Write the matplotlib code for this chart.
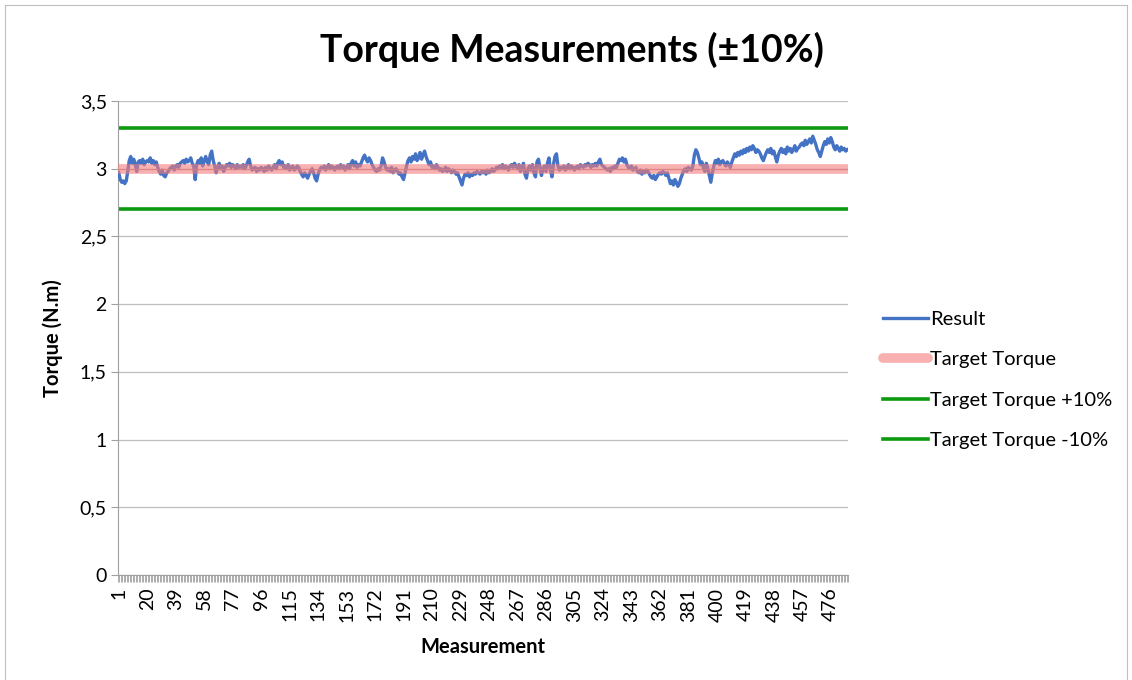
import numpy as np
import matplotlib
matplotlib.use("Agg")
import matplotlib.pyplot as plt
from matplotlib.ticker import MultipleLocator, FixedLocator, FuncFormatter

plt.rcParams['font.family'] = ['Lato', 'DejaVu Sans']

result = [
    2.97, 2.92, 2.90, 2.91, 2.89, 2.91, 2.98, 3.06, 3.09, 3.04, 3.07, 3.03, 2.98, 3.05, 3.06, 3.04, 3.07, 3.03, 3.05,
    3.06, 3.05, 3.08, 3.04, 3.06, 3.03, 3.05, 3.01, 2.98, 2.96, 2.99, 2.95, 2.94, 2.97, 2.98, 3.00, 3.01, 3.02, 2.99,
    3.02, 3.03, 3.01, 3.04, 3.05, 3.06, 3.04, 3.07, 3.05, 3.06, 3.08, 3.04, 3.02, 2.92, 3.03, 3.06, 3.04, 3.08, 3.02,
    3.06, 3.09, 3.05, 3.03, 3.10, 3.13, 3.06, 3.02, 2.97, 3.01, 3.04, 3.00, 3.02, 2.98, 3.01, 3.03, 3.02, 3.04, 3.01,
    3.03, 3.02, 3.00, 3.03, 3.01, 3.02, 3.01, 3.03, 3.00, 3.02, 3.05, 3.07, 3.02, 2.99, 3.00, 3.01, 2.98, 3.00, 2.99,
    3.01, 3.00, 2.98, 3.01, 2.99, 3.02, 3.00, 2.99, 3.01, 3.03, 3.00, 3.04, 3.06, 3.03, 3.05, 3.01, 3.02, 3.00, 3.03,
    2.99, 3.01, 3.02, 2.99, 3.00, 3.02, 3.01, 2.98, 2.96, 2.94, 2.97, 2.95, 2.93, 2.96, 2.98, 3.00, 2.97, 2.93, 2.91,
    2.96, 2.99, 3.01, 3.00, 3.02, 2.99, 3.01, 3.03, 3.00, 3.02, 3.01, 2.99, 3.01, 3.02, 3.00, 3.03, 3.01, 3.02, 2.99,
    3.01, 3.03, 3.00, 3.04, 3.06, 3.02, 3.05, 3.01, 3.03, 3.02, 3.05, 3.08, 3.10, 3.07, 3.05, 3.08, 3.06, 3.03, 3.01,
    2.99, 2.98, 3.00, 2.99, 3.02, 3.08, 3.05, 3.01, 2.99, 3.00, 2.98, 3.01, 2.97, 2.99, 3.00, 2.98, 2.96, 2.97, 2.94,
    2.92, 2.97, 3.02, 3.06, 3.08, 3.05, 3.09, 3.07, 3.11, 3.06, 3.08, 3.12, 3.07, 3.10, 3.13, 3.09, 3.06, 3.03, 3.05,
    3.01, 3.02, 3.00, 3.03, 3.01, 2.99, 3.00, 2.98, 2.99, 3.01, 2.98, 3.00, 2.99, 2.97, 2.99, 2.98, 2.96, 2.97, 2.94,
    2.91, 2.88, 2.93, 2.96, 2.95, 2.97, 2.94, 2.96, 2.95, 2.97, 2.96, 2.98, 2.97, 2.96, 2.98, 2.97, 2.98, 2.96, 2.99,
    2.97, 2.98, 3.00, 2.98, 2.99, 3.01, 3.00, 3.02, 3.01, 3.03, 3.00, 3.02, 3.01, 2.99, 3.02, 3.03, 3.01, 3.04, 3.02,
    3.00, 3.03, 2.98, 3.01, 3.04, 2.96, 2.93, 3.00, 3.02, 2.99, 3.03, 2.97, 2.94, 3.05, 3.07, 3.01, 2.95, 3.00, 3.02,
    2.98, 3.04, 3.08, 2.99, 2.94, 3.03, 3.09, 3.11, 3.02, 2.99, 3.01, 3.00, 3.02, 2.99, 3.01, 3.03, 3.00, 3.02, 3.01,
    2.99, 3.01, 3.02, 3.00, 3.03, 3.02, 3.01, 3.03, 3.02, 3.04, 3.03, 3.01, 3.03, 3.02, 3.04, 3.02, 3.05, 3.07, 3.03,
    3.02, 3.01, 3.00, 2.99, 3.00, 2.98, 3.01, 3.00, 3.02, 3.01, 3.04, 3.07, 3.06, 3.08, 3.05, 3.07, 3.03, 3.01, 3.00,
    3.02, 2.99, 3.00, 3.01, 2.98, 2.97, 2.99, 2.96, 2.98, 2.97, 2.99, 2.98, 2.96, 2.94, 2.93, 2.95, 2.92, 2.94, 2.96,
    2.97, 2.96, 2.98, 2.97, 2.95, 2.97, 2.93, 2.89, 2.91, 2.88, 2.92, 2.90, 2.87, 2.89, 2.93, 2.96, 2.99, 3.00, 2.98,
    3.01, 3.00, 2.99, 3.02, 3.10, 3.14, 3.12, 3.08, 3.03, 3.05, 3.01, 2.98, 3.04, 3.00, 2.95, 2.90, 2.97, 3.02, 3.06,
    3.04, 3.07, 3.03, 3.05, 3.06, 3.04, 3.02, 3.05, 3.03, 3.01, 3.05, 3.08, 3.11, 3.09, 3.12, 3.10, 3.13, 3.11, 3.14,
    3.12, 3.15, 3.13, 3.16, 3.14, 3.17, 3.15, 3.12, 3.14, 3.13, 3.11, 3.08, 3.06, 3.09, 3.12, 3.14, 3.12, 3.15, 3.11,
    3.13, 3.09, 3.05, 3.10, 3.13, 3.15, 3.12, 3.14, 3.11, 3.16, 3.13, 3.15, 3.12, 3.14, 3.17, 3.13, 3.15, 3.16, 3.18,
    3.19, 3.17, 3.21, 3.18, 3.20, 3.22, 3.19, 3.24, 3.21, 3.18, 3.14, 3.12, 3.09, 3.13, 3.17, 3.20, 3.18, 3.22, 3.19,
    3.23, 3.20, 3.16, 3.14, 3.17, 3.15, 3.13, 3.16, 3.14, 3.15, 3.13, 3.14,
]
target_torque = 3.0
upper_limit = 3.3
lower_limit = 2.7

n = len(result)
meas = np.arange(1, n + 1)
label_pos = np.arange(1, n + 1, 19)

fig = plt.figure(figsize=(11.32, 6.8), dpi=100)
ax = fig.add_axes([118 / 1132, 1 - 575 / 680, 730 / 1132, 474 / 680])

# thin frame around the chart area like the excel export
for xs, ys in [([5 / 1132, 5 / 1132], [0, 1 - 5 / 680]),
               ([5 / 1132, 1127 / 1132], [1 - 5 / 680, 1 - 5 / 680]),
               ([1127 / 1132, 1127 / 1132], [0, 1 - 5 / 680])]:
    fig.add_artist(plt.Line2D(xs, ys, color='#BFBFBF', lw=0.8))

ax.plot(meas, result, color='#4472C4', lw=2.4, label='Result', zorder=3)
ax.plot(meas, [target_torque] * n, color='#F47C7C', lw=7, alpha=0.6,
        solid_capstyle='round', label='Target Torque', zorder=4)
ax.plot(meas, [target_torque] * n, color='#D98080', lw=0.8, alpha=0.8, zorder=4)
ax.plot(meas, [upper_limit] * n, color='#0E9A0E', lw=2.6, label='Target Torque +10%', zorder=2)
ax.plot(meas, [lower_limit] * n, color='#0E9A0E', lw=2.6, label='Target Torque -10%', zorder=2)

ax.set_xlim(0.5, n + 0.5)
ax.set_ylim(0, 3.5)
ax.yaxis.set_major_locator(MultipleLocator(0.5))
ax.yaxis.set_major_formatter(FuncFormatter(lambda v, p: ('%g' % v).replace('.', ',')))
ax.grid(axis='y', color='#BFBFBF', lw=0.9)
ax.set_axisbelow(True)

ax.xaxis.set_major_locator(FixedLocator(label_pos))
ax.set_xticklabels([str(v) for v in label_pos], rotation=90)
ax.xaxis.set_minor_locator(FixedLocator(np.arange(0.5, n + 1, 1)))
ax.tick_params(axis='x', which='major', length=0, pad=9, labelsize=14)
ax.tick_params(axis='x', which='minor', length=5, width=0.6, color='#A0A0A0', direction='out')
ax.tick_params(axis='y', length=5, color='#A0A0A0', labelsize=14, pad=3)

for s in ['top', 'right']:
    ax.spines[s].set_visible(False)
for s in ['left', 'bottom']:
    ax.spines[s].set_color('#A0A0A0')

ax.set_ylabel('Torque (N.m)', fontsize=14.5, fontweight='bold', labelpad=12)
ax.set_xlabel('Measurement', fontsize=14.5, fontweight='bold', labelpad=11)
fig.text(572 / 1132, 1 - 50 / 680, 'Torque Measurements (\u00b110%)', fontsize=27,
         fontweight='bold', ha='center', va='center')

fig.legend(loc='center left', bbox_to_anchor=(883 / 1132, 1 - 380 / 680), frameon=False,
           fontsize=14.5, handlelength=2.25, handletextpad=0.1, labelspacing=1.15,
           borderpad=0, borderaxespad=0)

fig.savefig('out.png', dpi=100)
